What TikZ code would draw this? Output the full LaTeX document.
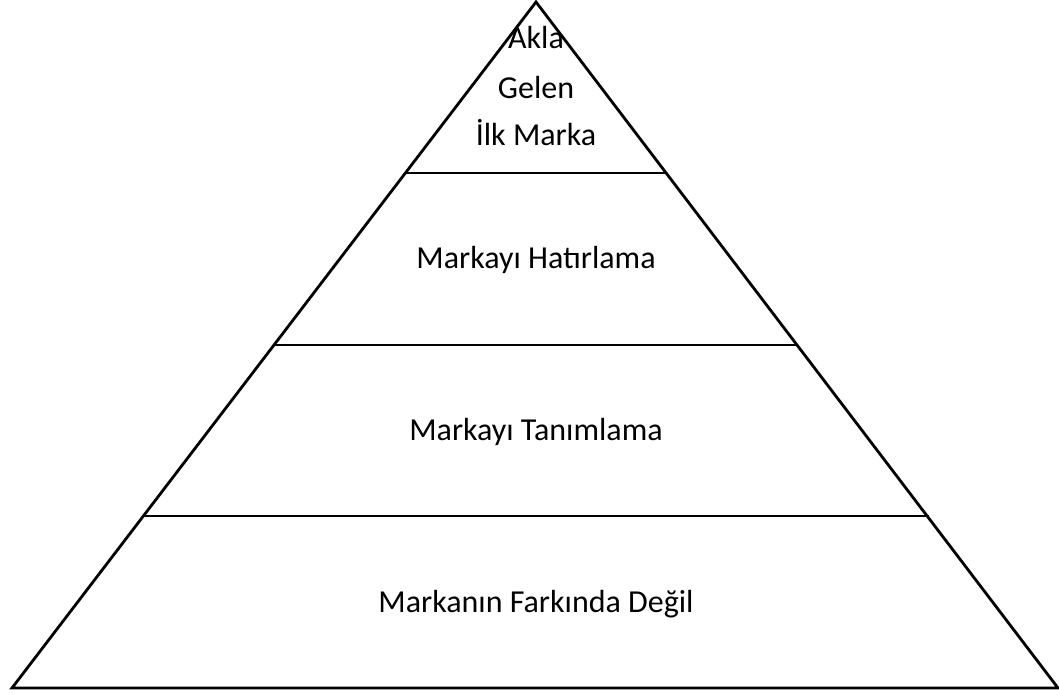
\documentclass[tikz,border=0pt]{standalone}
\usepackage{fontspec}
\setmainfont{Carlito}
\begin{document}
\begin{tikzpicture}[x=1pt,y=-1pt,
  edge/.style={line width=2.8pt,line join=miter},
  lbl/.style={anchor=base,inner sep=0pt,font=\fontsize{32}{38}\selectfont}]
\useasboundingbox (0,0) rectangle (1059,695);
\coordinate (apex) at (536,2);
\coordinate (bl) at (12,688);
\coordinate (br) at (1058,688);
\coordinate (l1) at (405,173);
\coordinate (r1) at (667,173);
\coordinate (l2) at (274,345);
\coordinate (r2) at (798,345);
\coordinate (l3) at (143,516);
\coordinate (r3) at (929,516);
\draw[edge] (apex) -- (bl) -- (br) -- cycle;
\draw[edge] (l1) -- (r1);
\draw[edge] (l2) -- (r2);
\draw[edge] (l3) -- (r3);
\node[lbl] (t1) at (536,49) {Akla};
\node[lbl] (t2) at (536,99) {Gelen};
\node[lbl] (t3) at (536,146) {İlk Marka};
\node[lbl] (t4) at (536,268) {Markayı Hatırlama};
\node[lbl] (t5) at (536,440) {Markayı Tanımlama};
\node[lbl] (t6) at (536,612) {Markanın Farkında Değil};
\end{tikzpicture}
\end{document}
